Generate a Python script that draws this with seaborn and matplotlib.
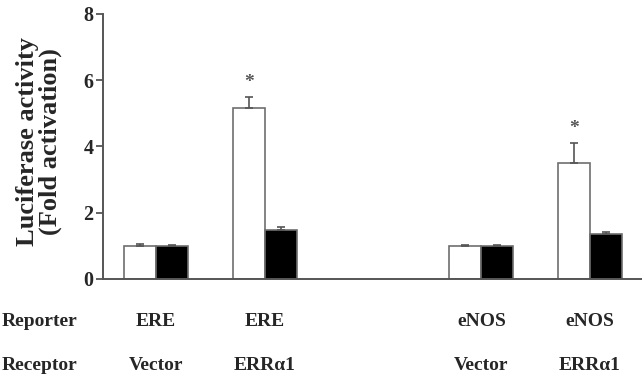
import numpy as np
import pandas as pd
import matplotlib
matplotlib.use('Agg')
import matplotlib.pyplot as plt
import matplotlib.transforms as mtransforms
import seaborn as sns

# values
groups = ['ERE / Vector', 'ERE / ERRa1', ' ', 'eNOS / Vector', 'eNOS / ERRa1']
reporter = ['ERE', 'ERE', '', 'eNOS', 'eNOS']
receptor = ['Vector', 'ERR\u03b11', '', 'Vector', 'ERR\u03b11']
open_vals = [1.0, 5.17, np.nan, 1.0, 3.49]
open_err = [0.05, 0.33, np.nan, 0.02, 0.63]
filled_vals = [1.0, 1.48, np.nan, 1.0, 1.35]
filled_err = [0.03, 0.08, np.nan, 0.03, 0.06]
significant = [False, True, False, False, True]

sns.set_style('ticks')
plt.rcParams['font.family'] = ['Liberation Serif', 'DejaVu Serif']
plt.rcParams['font.weight'] = 'bold'

df = pd.DataFrame({
    'group': groups * 2,
    'kind': ['open'] * len(groups) + ['filled'] * len(groups),
    'value': open_vals + filled_vals,
    'err': open_err + filled_err,
}).dropna()

fig = plt.figure(figsize=(6.42, 3.79), dpi=100)
ax = fig.add_axes([0.1604, 0.2639, 0.8396, 0.6992])

sns.barplot(data=df, x='group', y='value', hue='kind', order=groups,
            hue_order=['open', 'filled'], palette={'open': 'white', 'filled': 'black'},
            width=0.59, gap=0, edgecolor='#6e6e6e', linewidth=1.2, legend=False, ax=ax)

# one-sided error bars on top of each bar, plus asterisks
for container, kind in zip(ax.containers, ['open', 'filled']):
    sub = df[df.kind == kind].set_index('group').reindex([g for g in groups if g in set(df.group)])
    for bar, (g, row) in zip(container, sub.iterrows()):
        xc = bar.get_x() + bar.get_width() / 2
        top = bar.get_height()
        ax.errorbar(xc, top, yerr=[[0], [row.err]], fmt='none', ecolor='#555555',
                    elinewidth=1.2, capsize=3, capthick=1.2)
        if kind == 'open' and significant[groups.index(g)]:
            ax.annotate('*', (xc, top + row.err), xytext=(0, 10), textcoords='offset points',
                        ha='center', va='center', fontsize=14, color='#555555')

ax.set_xlim(-0.49, 4.48)
ax.set_ylim(0, 8)
ax.set_yticks([0, 2, 4, 6, 8])
ax.tick_params(axis='y', labelsize=14.5, length=5, width=1.3, color='#555555', pad=2)
ax.tick_params(axis='x', length=0, labelbottom=False)
ax.set_xlabel('')
ax.set_ylabel('Luciferase activity\n(Fold activation)', fontsize=19, fontweight='bold',
              linespacing=1.0)
ax.yaxis.set_label_coords(-0.076, 0.52)
for lbl in ax.get_yticklabels():
    lbl.set_fontweight('bold')

sns.despine(ax=ax)
for s in ['left', 'bottom']:
    ax.spines[s].set_color('#555555')
    ax.spines[s].set_linewidth(1.4)

# reporter / receptor rows under the axis
trans = mtransforms.blended_transform_factory(ax.transData, ax.transAxes)
row_trans = mtransforms.blended_transform_factory(fig.transFigure, ax.transAxes)
for rowname, labels, yy in [('Reporter', reporter, -0.162), ('Receptor', receptor, -0.325)]:
    ax.text(0.002, yy, rowname, transform=row_trans, ha='left', va='center',
            fontsize=14, fontweight='bold', clip_on=False)
    for i, t in enumerate(labels):
        ax.text(i, yy, t, transform=trans, ha='center', va='center',
                fontsize=14, fontweight='bold', clip_on=False)

fig.savefig('out.png', dpi=100)
